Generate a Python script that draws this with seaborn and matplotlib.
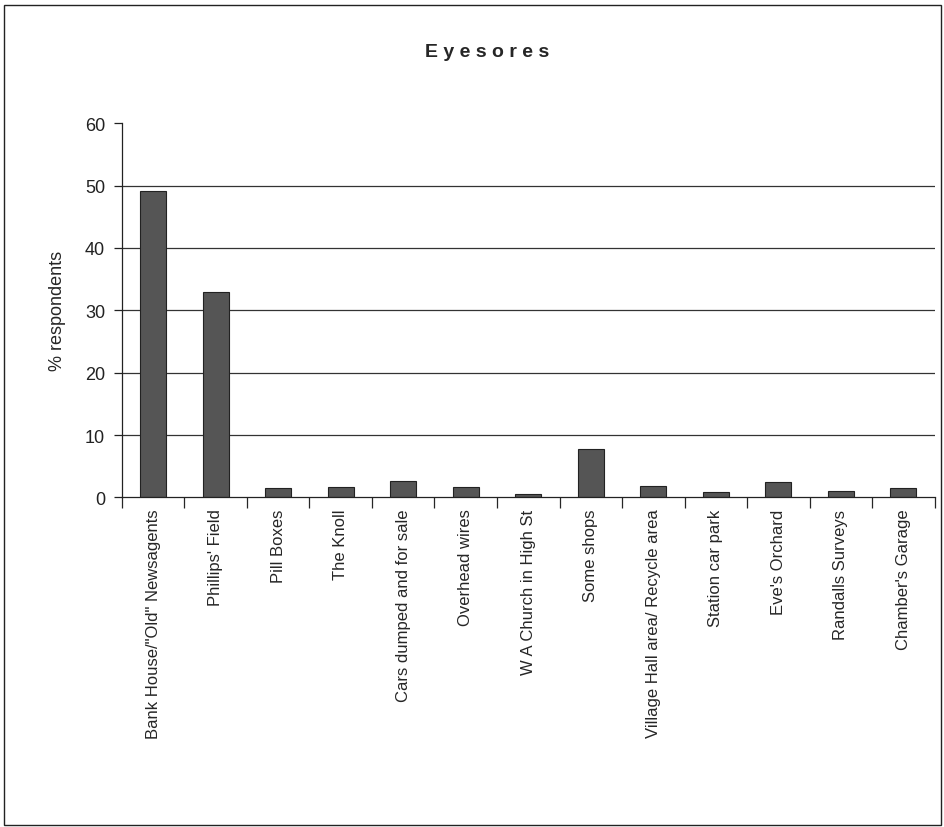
import matplotlib
matplotlib.use("Agg")
import matplotlib.pyplot as plt
import seaborn as sns
import pandas as pd
from matplotlib.patches import Rectangle

categories = ["Bank House/\"Old\" Newsagents", "Phillips' Field", "Pill Boxes", "The Knoll",
              "Cars dumped and for sale", "Overhead wires", "W A Church in High St",
              "Some shops", "Village Hall area/ Recycle area", "Station car park",
              "Eve's Orchard", "Randalls Surveys", "Chamber's Garage"]
values = [49.2, 33.0, 1.5, 1.6, 2.6, 1.6, 0.6, 7.8, 1.9, 0.9, 2.4, 1.1, 1.5]
yticks = [0, 10, 20, 30, 40, 50, 60]

sns.set_theme(style="white")
plt.rcParams['font.family'] = ['Liberation Sans', 'DejaVu Sans']

df = pd.DataFrame({"cat": categories, "val": values})
fig = plt.figure(figsize=(9.45, 8.28), dpi=100)
ax = fig.add_axes([0.129, 0.398, 0.86, 0.452])
sns.barplot(data=df, x="cat", y="val", color="#555555", width=0.42,
            edgecolor="#222222", linewidth=0.8, saturation=1, ax=ax)

ax.set_ylim(0, 60)
ax.set_xlim(-0.5, len(categories) - 0.5)
ax.set_yticks(yticks)
ax.set_yticklabels([str(t) for t in yticks], fontsize=13)
for t in yticks[1:-1]:
    ax.axhline(t, color="#333333", linewidth=0.9, zorder=0)
ax.set_xticks(range(len(categories)))
ax.set_xticklabels(categories, rotation=90, fontsize=12)
ax.tick_params(axis="x", length=0, pad=8)
ax.tick_params(axis="y", length=6, direction="out", left=True, width=0.9, colors="#222222", pad=6)
# category separator ticks on x axis
ax.set_xticks([i + 0.5 for i in range(-1, len(categories))], minor=True)
ax.tick_params(axis="x", which="minor", length=8, direction="out", bottom=True, width=0.9)
ax.set_xlabel("")
ax.set_ylabel("% respondents", fontsize=13, labelpad=14)
for s in ["top", "right"]:
    ax.spines[s].set_visible(False)
for s in ["left", "bottom"]:
    ax.spines[s].set_color("#222222")
    ax.spines[s].set_linewidth(0.9)

fig.text(0.515, 0.937, "E y e s o r e s", ha="center", va="center", fontsize=14, fontweight="bold")
fig.patches.append(Rectangle((0.004, 0.003), 0.992, 0.99, transform=fig.transFigure,
                             fill=False, edgecolor="#222222", linewidth=1.0))
fig.savefig("out.png", dpi=100)
